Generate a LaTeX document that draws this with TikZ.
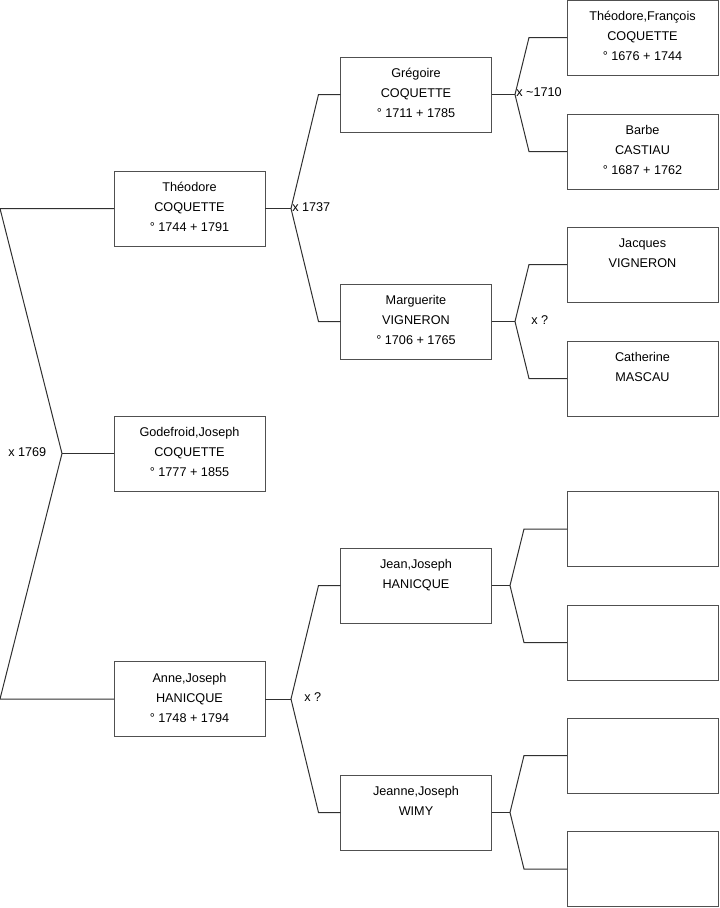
\documentclass[tikz,border=0pt]{standalone}
\usepackage{fontspec}
\setmainfont{Liberation Sans}
\usetikzlibrary{positioning}
\definecolor{boxgray}{HTML}{505050}
\definecolor{linegray}{HTML}{303030}

\begin{document}
\begin{tikzpicture}[x=0.75pt, y=-0.75pt, font=\fontsize{9.5}{15}\selectfont,
    pbox/.style={draw=boxgray, line width=0.75pt, minimum width=113.25pt, minimum height=56.25pt, inner sep=0pt, outer sep=0pt},
    ptext/.style={align=center, inner sep=0pt, execute at begin node={\rule{0pt}{9.5pt}}},
    fork/.style={draw=linegray, line width=0.75pt},
    mlabel/.style={anchor=west, inner sep=0pt}]
  \useasboundingbox (0,0) rectangle (719,908);

  % child
  \node[pbox] (gode) at (189.5,453.5) {};
  \node[ptext, below=8.5pt of gode.north] (gode-t) {Godefroid,Joseph\\COQUETTE\\° 1777 + 1855};

  % parents
  \node[pbox] (theo) at (189.5,208.5) {};
  \node[ptext, below=8.5pt of theo.north] (theo-t) {Théodore\\COQUETTE\\° 1744 + 1791};
  \node[pbox] (anne) at (189.5,699) {};
  \node[ptext, below=8.5pt of anne.north] (anne-t) {Anne,Joseph\\HANICQUE\\° 1748 + 1794};

  % grandparents
  \node[pbox] (greg) at (416,94.5) {};
  \node[ptext, below=8.5pt of greg.north] (greg-t) {Grégoire\\COQUETTE\\° 1711 + 1785};
  \node[pbox] (marg) at (416,321.5) {};
  \node[ptext, below=8.5pt of marg.north] (marg-t) {Marguerite\\VIGNERON\\° 1706 + 1765};
  \node[pbox] (jean) at (416,585.5) {};
  \node[ptext, below=8.5pt of jean.north] (jean-t) {Jean,Joseph\\HANICQUE};
  \node[pbox] (jeanne) at (416,812.5) {};
  \node[ptext, below=8.5pt of jeanne.north] (jeanne-t) {Jeanne,Joseph\\WIMY};

  % great-grandparents
  \node[pbox] (theofr) at (642.5,37.5) {};
  \node[ptext, below=8.5pt of theofr.north] (theofr-t) {Théodore,François\\COQUETTE\\° 1676 + 1744};
  \node[pbox] (barbe) at (642.5,151.5) {};
  \node[ptext, below=8.5pt of barbe.north] (barbe-t) {Barbe\\CASTIAU\\° 1687 + 1762};
  \node[pbox] (jacq) at (642.5,264.5) {};
  \node[ptext, below=8.5pt of jacq.north] (jacq-t) {Jacques\\VIGNERON};
  \node[pbox] (cath) at (642.5,378.5) {};
  \node[ptext, below=8.5pt of cath.north] (cath-t) {Catherine\\MASCAU};
  \node[pbox] (jean-f) at (642.5,529) {};
  \node[pbox] (jean-m) at (642.5,642.5) {};
  \node[pbox] (jeanne-f) at (642.5,755.5) {};
  \node[pbox] (jeanne-m) at (642.5,869) {};

  % forks
  \coordinate (f0) at (62,453.5);
  \coordinate (f0u) at (0,208.5);
  \coordinate (f0d) at (0,699);
  \draw[fork] (theo.west) -- (f0u) -- (f0) -- (f0d) -- (anne.west);
  \draw[fork] (f0) -- (gode.west);

  \coordinate (f1) at (291,208.5);
  \draw[fork] (theo.east) -- (f1);
  \draw[fork] (greg.west) -- ([xshift=-16.5pt]greg.west) -- (f1) -- ([xshift=-16.5pt]marg.west) -- (marg.west);

  \coordinate (f2) at (291,699);
  \draw[fork] (anne.east) -- (f2);
  \draw[fork] (jean.west) -- ([xshift=-16.5pt]jean.west) -- (f2) -- ([xshift=-16.5pt]jeanne.west) -- (jeanne.west);

  \coordinate (fg) at (515,94.5);
  \draw[fork] (greg.east) -- (fg);
  \draw[fork] (theofr.west) -- ([xshift=-28.5pt]theofr.west) -- (fg) -- ([xshift=-28.5pt]barbe.west) -- (barbe.west);

  \coordinate (fm) at (515,321.5);
  \draw[fork] (marg.east) -- (fm);
  \draw[fork] (jacq.west) -- ([xshift=-28.5pt]jacq.west) -- (fm) -- ([xshift=-28.5pt]cath.west) -- (cath.west);

  \coordinate (fj) at (510,585.5);
  \draw[fork] (jean.east) -- (fj);
  \draw[fork] (jean-f.west) -- ([xshift=-32.25pt]jean-f.west) -- (fj) -- ([xshift=-32.25pt]jean-m.west) -- (jean-m.west);

  \coordinate (fw) at (510,812.5);
  \draw[fork] (jeanne.east) -- (fw);
  \draw[fork] (jeanne-f.west) -- ([xshift=-32.25pt]jeanne-f.west) -- (fw) -- ([xshift=-32.25pt]jeanne-m.west) -- (jeanne-m.west);

  % marriages
  \node[mlabel] (m0) at (8,452) {x 1769};
  \node[mlabel] (m1) at (292,207) {x 1737};
  \node[mlabel] (m2) at (516,92) {x \textasciitilde1710};
  \node[mlabel] (m3) at (531,320) {x ?};
  \node[mlabel] (m4) at (304,697) {x ?};
\end{tikzpicture}
\end{document}
